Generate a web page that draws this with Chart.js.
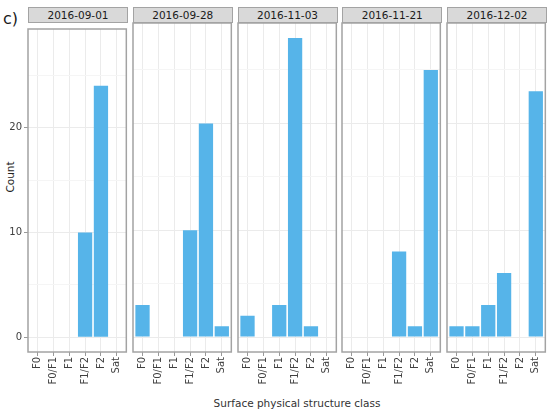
<!DOCTYPE html>
<html>
<head>
<meta charset="utf-8">
<script src="https://cdn.jsdelivr.net/npm/chart.js@4"></script>
<style>
  body { margin: 0; background: #fff; width: 550px; height: 412px; overflow: hidden; position: relative; font-family: "DejaVu Sans", sans-serif; }
  canvas { position: absolute; }
  .strip { position: absolute; top: 7px; height: 16px; box-sizing: border-box; background: #d9d9d9; border: 1px solid #a3a3a3; font-size: 10.5px; color: #1a1a1a; text-align: center; line-height: 14px; }
  .lbl { position: absolute; color: #1a1a1a; white-space: nowrap; }
</style>
</head>
<body>
<div class="lbl" style="left:3px; top:11px; font-size:16px; line-height:16px;">c)</div>
<div class="lbl" style="left:-15px; top:171px; width:50px; text-align:center; font-size:10.5px; line-height:12px; color:#222; transform:rotate(-90deg);">Count</div>
<div class="lbl" style="left:0; width:594px; text-align:center; top:397px; font-size:10.5px; line-height:12px; color:#333;">Surface physical structure class</div>
<script>
/* facetted count bars */
const classes = ['F0', 'F0/F1', 'F1', 'F1/F2', 'F2', 'Sat'];
const dates = ['2016-09-01', '2016-09-28', '2016-11-03', '2016-11-21', '2016-12-02'];

const count0901 = [0, 0, 0, 10, 24, 0];
const count0928 = [3, 0, 0, 10, 20, 1];
const count1103 = [2, 0, 3, 28, 1, 0];
const count1121 = [0, 0, 0, 8, 1, 25];
const count1202 = [1, 1, 3, 6, 0, 23];
const countsByDate = [count0901, count0928, count1103, count1121, count1202];

const yTicks = [0, 5, 10, 15, 20, 25];
const yMajor = [0, 10, 20];

const panelLeft = [28, 132.75, 237.5, 342.25, 447];
const panelW = 100;
const panelTop = 23;
const panelH = 329;
const xAxisH = 60;

const panelBorder = {
  id: 'panelBorder',
  afterDraw(chart) {
    const a = chart.chartArea, ctx = chart.ctx;
    ctx.save();
    ctx.strokeStyle = '#a3a3a3';
    ctx.lineWidth = 1.5;
    ctx.strokeRect(a.left, a.top, a.right - a.left, a.bottom - a.top);
    ctx.restore();
  }
};

function makePanel(i) {
  const first = i === 0;
  const canvas = document.createElement('canvas');
  const cw = first ? panelLeft[0] + panelW + 2 : panelW + 4;
  const ch = 2 + panelH + xAxisH;
  canvas.width = cw; canvas.height = ch;
  canvas.style.left = (first ? 0 : panelLeft[i] - 2) + 'px';
  canvas.style.top = (panelTop - 2) + 'px';
  canvas.style.width = cw + 'px';
  canvas.style.height = ch + 'px';
  document.body.appendChild(canvas);

  const strip = document.createElement('div');
  strip.className = 'strip';
  strip.style.left = panelLeft[i] + 'px';
  strip.style.width = panelW + 'px';
  strip.textContent = dates[i];
  document.body.appendChild(strip);

  new Chart(canvas.getContext('2d'), {
    type: 'bar',
    data: {
      datasets: [{
        data: countsByDate[i].map((v, k) => ({ x: k + 1, y: v })),
        backgroundColor: '#56B4E9',
        borderWidth: 0,
        barPercentage: 0.9,
        categoryPercentage: 1
      }]
    },
    options: {
      responsive: false,
      animation: false,
      layout: { padding: { left: first ? 0 : 2, right: 2, top: 2, bottom: 0 } },
      plugins: { legend: { display: false }, tooltip: { enabled: false } },
      scales: {
        x: {
          type: 'linear',
          min: 0.4, max: 6.6,
          offset: false,
          afterBuildTicks: s => { s.ticks = classes.map((c, k) => ({ value: k + 1 })); },
          afterFit: s => { s.height = xAxisH; },
          grid: { offset: false, color: '#ebebeb', tickColor: '#999', tickLength: 4, lineWidth: 1 },
          border: { display: false },
          ticks: {
            autoSkip: false, minRotation: 90, maxRotation: 90, padding: 1,
            color: '#404040', font: { family: 'DejaVu Sans', size: 10 },
            callback: v => classes[v - 1]
          }
        },
        y: {
          min: -1.4, max: 29.4,
          afterBuildTicks: s => { s.ticks = yTicks.map(v => ({ value: v })); },
          afterFit: s => { s.width = first ? panelLeft[0] : 0; },
          grid: {
            drawTicks: first,
            tickLength: 4,
            color: c => yMajor.includes(c.tick.value) ? '#ebebeb' : '#f5f5f5',
            tickColor: c => yMajor.includes(c.tick.value) ? '#999' : 'rgba(0,0,0,0)'
          },
          border: { display: false },
          ticks: {
            display: first, padding: 2,
            color: '#404040', font: { family: 'DejaVu Sans', size: 10 },
            callback: v => yMajor.includes(v) ? String(v) : ''
          }
        }
      }
    },
    plugins: [panelBorder]
  });
}

dates.forEach((d, i) => makePanel(i));
</script>
</body>
</html>
